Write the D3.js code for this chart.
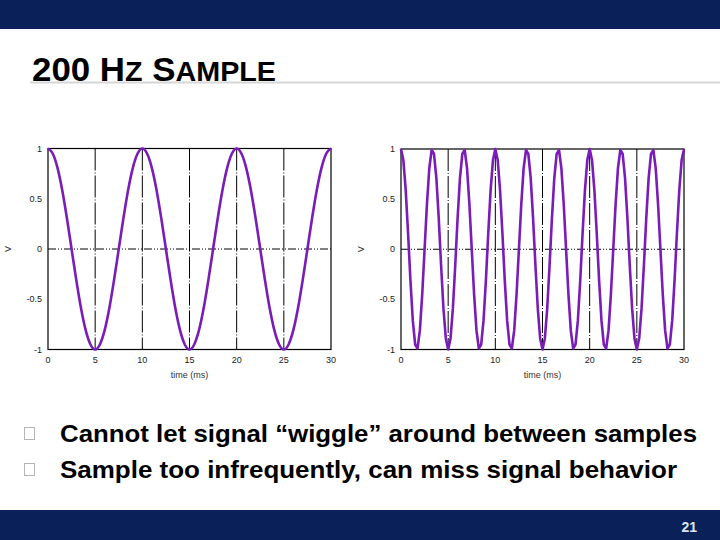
<!DOCTYPE html>
<html><head><meta charset="utf-8">
<script src="https://cdn.jsdelivr.net/npm/d3@7"></script>
<style>html,body{margin:0;padding:0;background:#fff;}svg{display:block;}</style>
</head><body>
<svg id="c" width="720" height="540"></svg>
<script>
// ---- data ----
const titleParts = [["200 H", 34], ["Z", 28], [" S", 34], ["AMPLE", 28]];
const xTicks = [0, 5, 10, 15, 20, 25, 30];
const yTicks = [1, 0.5, 0, -0.5, -1];
const xLabel = "time (ms)";
const yLabel = "V";
// left panel: 100 Hz cosine, read every 0.5 ms
const leftStep = 0.5;
const leftV = [1,0.95,0.81,0.59,0.31,0,-0.31,-0.59,-0.81,-0.95,-1,-0.95,-0.81,-0.59,-0.31,0,0.31,0.59,0.81,0.95,
  1,0.95,0.81,0.59,0.31,0,-0.31,-0.59,-0.81,-0.95,-1,-0.95,-0.81,-0.59,-0.31,0,0.31,0.59,0.81,0.95,
  1,0.95,0.81,0.59,0.31,0,-0.31,-0.59,-0.81,-0.95,-1,-0.95,-0.81,-0.59,-0.31,0,0.31,0.59,0.81,0.95,1];
// right panel: 300 Hz signal, points every 0.25 ms
const rightStep = 0.25;
const rightV = [1,0.89,0.59,0.16,-0.31,-0.71,-0.95,-0.99,-0.81,-0.45,0,0.45,0.81,0.99,0.95,0.71,0.31,-0.16,-0.59,-0.89,
  -1,-0.89,-0.59,-0.16,0.31,0.71,0.95,0.99,0.81,0.45,0,-0.45,-0.81,-0.99,-0.95,-0.71,-0.31,0.16,0.59,0.89,
  1,0.89,0.59,0.16,-0.31,-0.71,-0.95,-0.99,-0.81,-0.45,0,0.45,0.81,0.99,0.95,0.71,0.31,-0.16,-0.59,-0.89,
  -1,-0.89,-0.59,-0.16,0.31,0.71,0.95,0.99,0.81,0.45,0,-0.45,-0.81,-0.99,-0.95,-0.71,-0.31,0.16,0.59,0.89,
  1,0.89,0.59,0.16,-0.31,-0.71,-0.95,-0.99,-0.81,-0.45,0,0.45,0.81,0.99,0.95,0.71,0.31,-0.16,-0.59,-0.89,
  -1,-0.89,-0.59,-0.16,0.31,0.71,0.95,0.99,0.81,0.45,0,-0.45,-0.81,-0.99,-0.95,-0.71,-0.31,0.16,0.59,0.89,1];
const bullets = ["Cannot let signal \u201cwiggle\u201d around between samples",
                 "Sample too infrequently, can miss signal behavior"];
const pageNum = "21";

// ---- drawing ----
const svg = d3.select("#c");
const navy = "#0a2058";
svg.append("rect").attr("x",0).attr("y",0).attr("width",720).attr("height",29).attr("fill",navy);
svg.append("rect").attr("x",0).attr("y",510).attr("width",720).attr("height",30).attr("fill",navy);
svg.append("text").attr("x",697).attr("y",532).attr("text-anchor","end")
  .attr("font-family","Liberation Sans, Arial, sans-serif").attr("font-weight","bold")
  .attr("font-size",14).attr("fill","#dde4f2").text(pageNum);

// title
svg.append("line").attr("x1",30).attr("x2",720).attr("y1",82.5).attr("y2",82.5)
  .attr("stroke","#d6d6d6").attr("stroke-width",2);
const t = svg.append("text").attr("x",32).attr("y",81)
  .attr("font-family","Liberation Sans, Arial, sans-serif").attr("font-weight","bold").attr("fill","#000")
  .attr("textLength",244).attr("lengthAdjust","spacingAndGlyphs");
titleParts.forEach(([s, fs]) => t.append("tspan").attr("font-size",fs).text(s));

function panel(x0, x1, y0, y1, vals, step, curve) {
  const x = d3.scaleLinear().domain([0,30]).range([x0,x1]);
  const y = d3.scaleLinear().domain([-1,1]).range([y1,y0]);
  const g = svg.append("g");
  // grid
  g.selectAll(".vg").data(xTicks.slice(1,-1)).join("line")
    .attr("x1",d=>x(d)).attr("x2",d=>x(d)).attr("y1",y0).attr("y2",y1)
    .attr("stroke","#000").attr("stroke-width",1).attr("stroke-dasharray","22,2,1,2");
  g.append("line").attr("x1",x0).attr("x2",x1).attr("y1",y(0)).attr("y2",y(0))
    .attr("stroke","#000").attr("stroke-width",1).attr("stroke-dasharray","8,2,1,2,1,2");
  // frame
  g.append("rect").attr("x",x0).attr("y",y0).attr("width",x1-x0).attr("height",y1-y0)
    .attr("fill","none").attr("stroke","#000").attr("stroke-width",1.2);
  // ticks
  const tf = "Liberation Sans, Arial, sans-serif";
  g.selectAll(".xt").data(xTicks).join("text")
    .attr("x",d=>x(d)).attr("y",y1+13).attr("text-anchor","middle")
    .attr("font-family",tf).attr("font-size",9).attr("fill","#222").text(d=>d);
  g.selectAll(".yt").data(yTicks).join("text")
    .attr("x",x0-6).attr("y",d=>y(d)+3).attr("text-anchor","end")
    .attr("font-family",tf).attr("font-size",9).attr("fill","#222").text(d=>d);
  g.append("text").attr("x",(x0+x1)/2).attr("y",y1+28).attr("text-anchor","middle")
    .attr("font-family",tf).attr("font-size",9).attr("fill","#333").text(xLabel);
  g.append("text").attr("transform",`translate(${x0-37},${(y0+y1)/2}) rotate(-90)`)
    .attr("text-anchor","middle").attr("font-family",tf).attr("font-size",9).attr("fill","#333").text(yLabel);
  // curve
  const line = d3.line().x((d,i)=>x(i*step)).y(d=>y(d)).curve(curve);
  g.append("path").datum(vals).attr("d",line).attr("fill","none")
    .attr("stroke","#7a1cb8").attr("stroke-width",2.6).attr("stroke-linejoin","round");
}
panel(48, 331, 148.5, 349.5, leftV, leftStep, d3.curveCardinal);
panel(401, 684, 149, 349.5, rightV, rightStep, d3.curveLinear);

// bullets
const bf = "Liberation Sans Narrow, Arial Narrow, Liberation Sans, Arial, sans-serif";
const by = [442, 478];
const bw = [637, 617];
bullets.forEach((s,i) => {
  svg.append("rect").attr("x",24.5).attr("y",by[i]-14.5).attr("width",10).attr("height",12)
    .attr("fill","none").attr("stroke","#b5b5b5").attr("stroke-width",1);
  svg.append("text").attr("x",60).attr("y",by[i]).attr("font-family",bf).attr("font-weight","bold")
    .attr("font-size",24).attr("fill","#000")
    .attr("textLength",bw[i]).attr("lengthAdjust","spacingAndGlyphs").text(s);
});
</script>
</body></html>
